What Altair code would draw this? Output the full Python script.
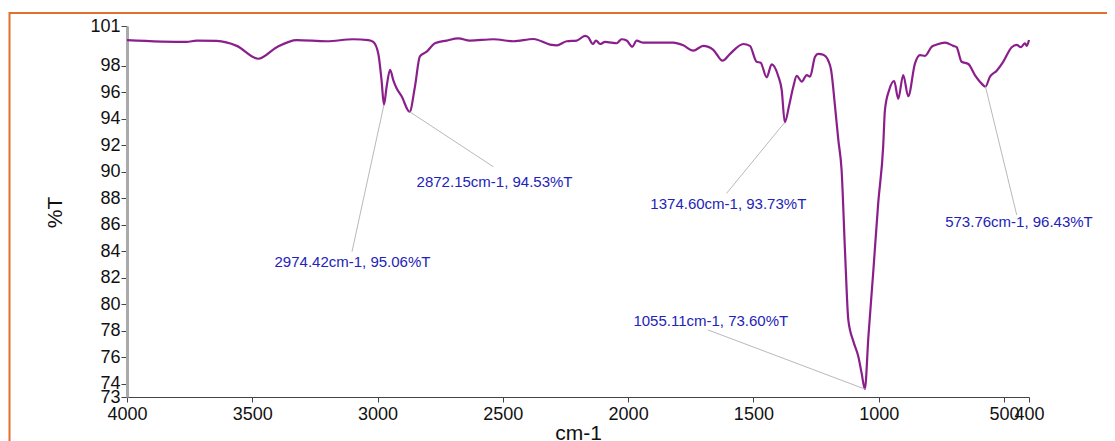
import altair as alt
import pandas as pd

# Spectrum (wavenumber cm-1, %T)
wavenumber = [4000, 3762, 3722, 3642, 3562, 3476, 3402, 3323, 3203, 3097, 3037, 3017,
              2997, 2984, 2974.42, 2964, 2950, 2937, 2924, 2904, 2872.15, 2851, 2831, 2804,
              2771, 2724, 2678, 2631, 2538, 2458, 2378, 2312, 2285, 2245, 2205, 2172, 2159,
              2141, 2128, 2112, 2092, 2066, 2046, 2026, 2006, 1983, 1966, 1939, 1873, 1820,
              1780, 1740, 1700, 1660, 1623, 1593, 1540, 1514, 1487, 1471, 1447, 1427, 1401,
              1387, 1374.60, 1357, 1341, 1327, 1307, 1287, 1274, 1254, 1241, 1221, 1201, 1190,
              1174, 1161, 1148, 1134, 1121, 1101, 1081, 1068, 1055.11, 1041, 1021, 1002, 982,
              975, 958, 938, 922, 902, 882, 855, 835, 815, 788, 768, 735, 702, 689, 669, 642,
              616, 596, 573.76, 556, 529, 503, 469, 449, 432, 416, 409, 400]
transmittance = [99.94, 99.8, 99.9, 99.87, 99.5, 98.53, 99.4, 99.94, 99.85, 100.0, 99.94, 99.8,
                 98.9, 96.9, 95.06, 96.4, 97.7, 96.9, 96.3, 95.7, 94.53, 96.4, 98.7, 99.06,
                 99.7, 99.9, 100.07, 99.9, 100.0, 99.85, 100.02, 99.6, 99.54, 99.85, 99.9, 100.25, 100.15,
                 99.64, 99.9, 99.64, 99.8, 99.74, 99.7, 100.0, 99.9, 99.44, 99.9, 99.74, 99.74, 99.74,
                 99.54, 99.14, 99.5, 99.2, 98.38, 98.9, 99.64, 99.5, 98.3, 98.23, 97.13, 98.1, 97.23,
                 96.17, 93.73, 95.04, 96.4, 97.23, 96.8, 97.3, 97.17, 98.68, 98.9, 98.83, 98.38, 97.7,
                 94.9, 92.4, 90.13, 83.85, 78.8, 77.2, 76.04, 74.8, 73.60, 77.55, 82.6, 87.6, 91.9,
                 94.66, 96.17, 96.85, 95.5, 97.3, 95.7, 98.18, 98.8, 98.74, 99.44, 99.6, 99.74, 99.5, 99.4, 98.3, 98.13,
                 97.3, 96.8, 96.43, 97.17, 97.63, 98.3, 99.4, 99.57, 99.4, 99.7, 99.5, 99.94]

# Annotated peaks
peak_wn = [2974.42, 2872.15, 1374.60, 1055.11, 573.76]
peak_t = [95.06, 94.53, 93.73, 73.60, 96.43]
label_wn = [3100, 2533, 1600, 1670, 440]
label_t = [83.19, 89.23, 87.57, 78.74, 86.2]
lead_wn = [3102, 2538, 1607, 1681, 449]
lead_t = [83.97, 90.38, 88.37, 78.06, 86.74]

x_ticks = [4000, 3500, 3000, 2500, 2000, 1500, 1000, 500, 400]
y_ticks = [73, 74, 76, 78, 80, 82, 84, 86, 88, 90, 92, 94, 96, 98, 101]

FONT = "Liberation Sans"

spec = pd.DataFrame({"wn": wavenumber, "t": transmittance})
ann = pd.DataFrame({
    "wn": peak_wn, "t": peak_t,
    "lwn": label_wn, "lt": label_t,
    "ewn": lead_wn, "et": lead_t,
    "label": [f"{w:.2f}cm-1, {t:.2f}%T" for w, t in zip(peak_wn, peak_t)],
})

xscale = alt.Scale(domain=[400, 4000], reverse=True, nice=False, zero=False)
yscale = alt.Scale(domain=[73, 101], nice=False, zero=False)

xaxis = alt.Axis(values=x_ticks, format="d", title="cm-1", grid=False, labelFlush=False,
                 labelOverlap=False, labelBound=False,
                 labelFont=FONT, labelFontSize=18, labelColor="#111", tickColor="#444", tickSize=5,
                 labelPadding=3, domainColor="#444", domainWidth=1.2,
                 titleFont=FONT, titleFontSize=21, titleFontWeight="normal", titleColor="#111",
                 titleX=451, titleY=36, titleBaseline="middle")
yaxis = alt.Axis(values=y_ticks, format="d", title="%T", grid=False, labelOverlap=False,
                 labelFlush=False, labelBound=False,
                 labelFont=FONT, labelFontSize=18, labelColor="#111", tickColor="#444", tickSize=6,
                 labelPadding=1, domainColor="#aaaaaa", domainWidth=3, labelBaseline="middle",
                 titleFont=FONT, titleFontSize=21, titleFontWeight="normal", titleColor="#111",
                 titleX=-72, titleY=186, titleAngle=-90, titleBaseline="middle", titleAlign="center")

line = alt.Chart(spec).mark_line(color="#8a1f8c", strokeWidth=2.2, interpolate="monotone").encode(
    x=alt.X("wn:Q", scale=xscale, axis=xaxis),
    y=alt.Y("t:Q", scale=yscale, axis=yaxis),
    order=alt.Order("wn:Q", sort="descending"),
)

leaders = alt.Chart(ann).mark_rule(color="#b8b8c0", strokeWidth=1).encode(
    x=alt.X("wn:Q", scale=xscale, axis=xaxis), y=alt.Y("t:Q", scale=yscale, axis=yaxis),
    x2="ewn:Q", y2="et:Q",
)

labels = alt.Chart(ann).mark_text(font=FONT, fontSize=15, color="#2323b8", align="center",
                                  baseline="middle").encode(
    x=alt.X("lwn:Q", scale=xscale, axis=xaxis), y=alt.Y("lt:Q", scale=yscale, axis=yaxis),
    text="label:N",
)

frame = alt.Chart(alt.Data(values=[{}])).mark_rect(fill=None, stroke="#e0712c", strokeWidth=2).encode(
    x=alt.value(-117.5), x2=alt.value(1000), y=alt.value(-13), y2=alt.value(450),
)

chart = alt.layer(line, frame, leaders, labels).properties(
    width=902, height=371,
    padding={"left": 119, "top": 18, "right": 78, "bottom": 60},
    autosize=alt.AutoSizeParams(type="none"),
).configure(background="white").configure_view(stroke=None)

chart.save("out.html", embed_options={"renderer": "svg", "actions": False})
